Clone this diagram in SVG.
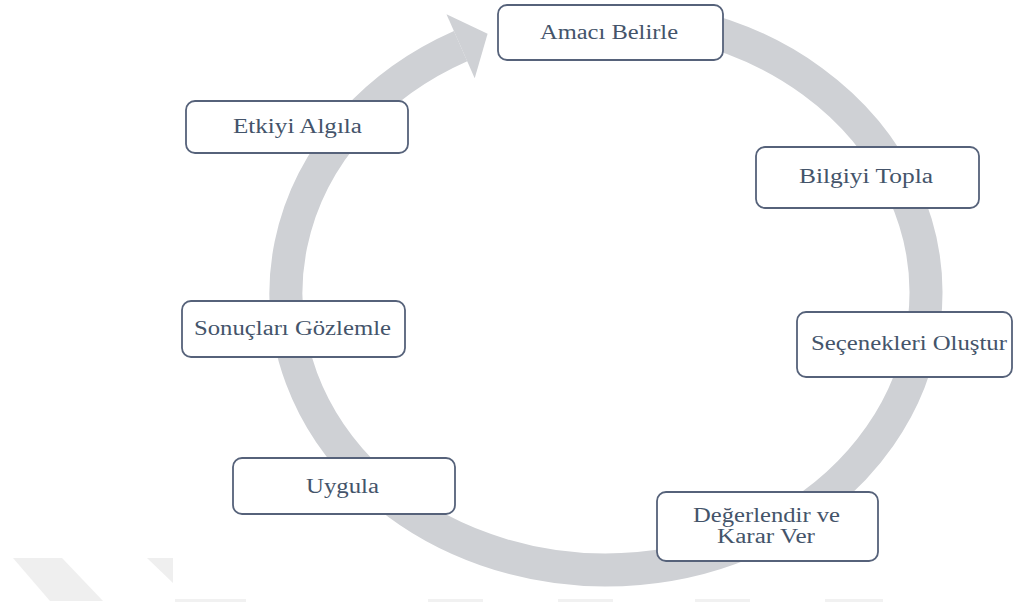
<svg xmlns="http://www.w3.org/2000/svg" width="1014" height="602" viewBox="0 0 1014 602">
  <style>
    .box rect { fill: #ffffff; stroke: #56627a; stroke-width: 1.8; }
    .box text { font-family: "Liberation Serif", "Times New Roman", serif; font-size: 20px; fill: #44546a; }
    .wm { fill: #efefef; }
    .wl { fill: #f1f1f1; }
    .ring { fill: none; stroke: #cfd1d5; stroke-width: 33; }
    .head { fill: #cfd1d5; }
  </style>
  <rect x="0" y="0" width="1014" height="602" fill="#ffffff"/>
  <g id="watermark">
    <polygon class="wm" points="13,558 62,558 103,601 50,601"/>
    <polygon class="wm" points="147,558 173,558 173,583"/>
    <rect class="wl" x="175" y="599" width="71" height="3"/>
    <rect class="wl" x="428" y="599" width="55" height="3"/>
    <rect class="wl" x="558" y="599" width="55" height="3"/>
    <rect class="wl" x="695" y="599" width="55" height="3"/>
    <rect class="wl" x="825" y="599" width="58" height="3"/>
  </g>
  <g id="connectors">
    <path class="ring" d="M 690 25.7 A 320 277 0 1 1 460.6 46.2"/>
    <polygon class="head" points="446.5,14.2 487.6,33.8 474.7,78.2"/>
  </g>
  <g id="n1" class="box">
    <rect x="498" y="5" width="225" height="55" rx="9"/>
    <text x="540" y="39" textLength="138" lengthAdjust="spacingAndGlyphs">Amacı Belirle</text>
  </g>
  <g id="n2" class="box">
    <rect x="756" y="147" width="223" height="61" rx="9"/>
    <text x="799" y="183" textLength="134" lengthAdjust="spacingAndGlyphs">Bilgiyi Topla</text>
  </g>
  <g id="n3" class="box">
    <rect x="797" y="312" width="215" height="65" rx="9"/>
    <text x="811" y="350" textLength="196" lengthAdjust="spacingAndGlyphs">Seçenekleri Oluştur</text>
  </g>
  <g id="n4" class="box">
    <rect x="657" y="492" width="221" height="69" rx="9"/>
    <text x="693" y="522" textLength="147" lengthAdjust="spacingAndGlyphs">Değerlendir ve</text>
    <text x="717" y="543" textLength="98" lengthAdjust="spacingAndGlyphs">Karar Ver</text>
  </g>
  <g id="n5" class="box">
    <rect x="233" y="458" width="222" height="56" rx="9"/>
    <text x="306" y="493" textLength="73" lengthAdjust="spacingAndGlyphs">Uygula</text>
  </g>
  <g id="n6" class="box">
    <rect x="182" y="301" width="223" height="56" rx="9"/>
    <text x="194" y="335" textLength="197" lengthAdjust="spacingAndGlyphs">Sonuçları Gözlemle</text>
  </g>
  <g id="n7" class="box">
    <rect x="186" y="101" width="222" height="52" rx="9"/>
    <text x="233" y="133" textLength="129" lengthAdjust="spacingAndGlyphs">Etkiyi Algıla</text>
  </g>
</svg>
